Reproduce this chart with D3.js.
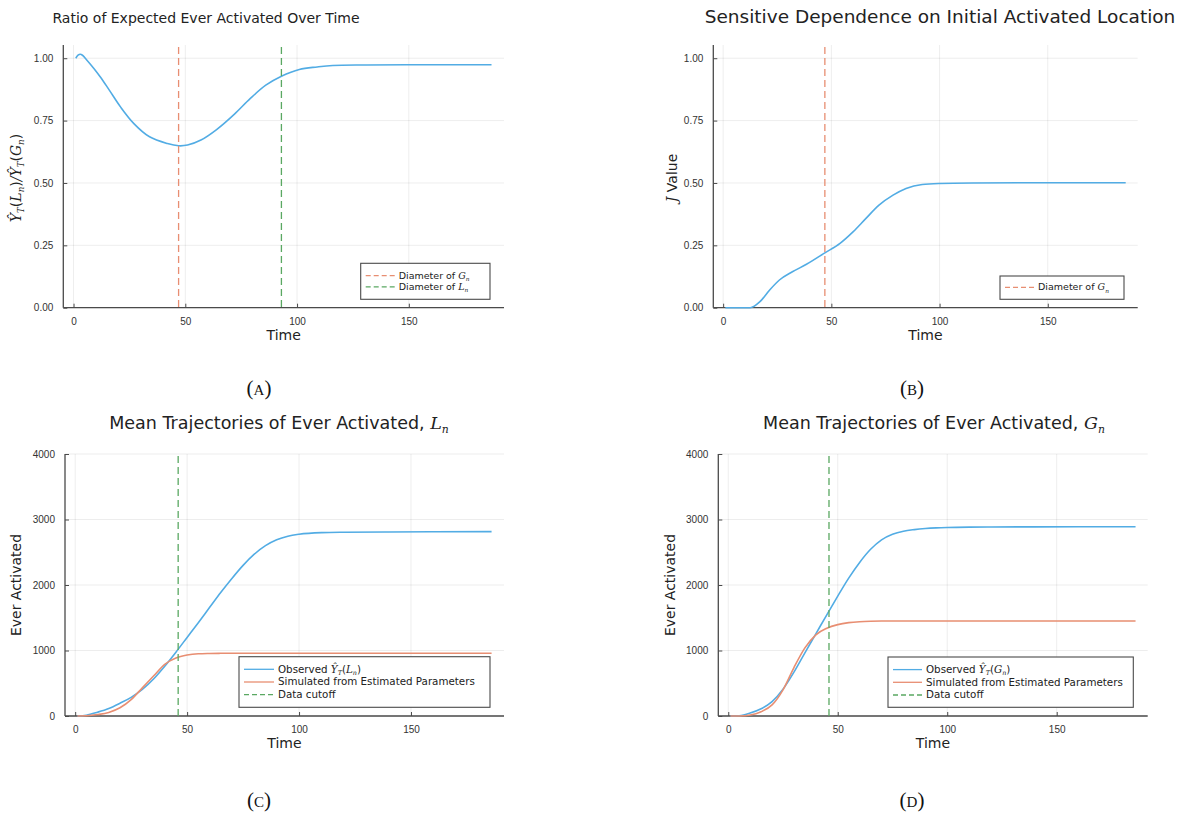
<!DOCTYPE html>
<html>
<head>
<meta charset="utf-8">
<script src="https://cdn.jsdelivr.net/npm/d3@7"></script>
<style>
  body { margin: 0; background: #fff; }
  svg { display: block; font-family: "DejaVu Sans", sans-serif; }
  .grid line { stroke: #000; stroke-opacity: 0.07; }
  .spine { stroke: #4a4a4a; stroke-width: 1.3; }
  .tick-label { font-size: 10px; fill: #333; }
  .legend-box { fill: #fff; stroke: #4a4a4a; stroke-width: 1.1; }
</style>
</head>
<body>
<svg id="chart" width="1185" height="817"></svg>
<script>
// ---- data ----
const ratioTime = [1, 2, 3, 4, 6, 9, 12, 16, 21, 27, 34, 42, 47, 51, 57, 64, 72, 79, 86, 93, 101, 109, 116, 131, 160, 187];
const ratioValue = [1.0, 1.012, 1.016, 1.012, 0.992, 0.96, 0.925, 0.872, 0.805, 0.738, 0.685, 0.658, 0.649, 0.652, 0.672, 0.714, 0.776, 0.838, 0.892, 0.928, 0.955, 0.965, 0.971, 0.973, 0.974, 0.974];

const jTime = [1, 5, 10, 12.5, 17, 21.5, 26, 32, 38.5, 47, 54, 60, 66, 72, 78.5, 84.5, 92, 100, 115, 150, 186];
const jValue = [0, 0, 0, 0, 0.024, 0.071, 0.111, 0.144, 0.174, 0.22, 0.258, 0.304, 0.358, 0.411, 0.451, 0.478, 0.494, 0.498, 0.5, 0.501, 0.501];

const trajTime = [1, 5, 10, 15, 20, 25, 30, 35, 40, 45, 50, 55, 60, 65, 70, 75, 80, 85, 90, 95, 100, 110, 120, 140, 160, 186];
const lnObserved = [0, 12, 58, 115, 195, 285, 405, 565, 760, 975, 1200, 1425, 1655, 1885, 2100, 2300, 2470, 2600, 2690, 2745, 2775, 2800, 2806, 2810, 2812, 2815];
const lnSimulated = [0, 3, 22, 55, 125, 250, 430, 610, 790, 885, 930, 950, 955, 957, 958, 958, 958, 958, 958, 958, 958, 958, 958, 958, 958, 958];
const gnObserved = [0, 5, 45, 110, 220, 410, 670, 965, 1255, 1545, 1830, 2105, 2345, 2545, 2690, 2775, 2822, 2846, 2862, 2872, 2878, 2884, 2886, 2888, 2889, 2890];
const gnSimulated = [0, 1, 15, 65, 170, 400, 740, 1040, 1240, 1340, 1395, 1425, 1440, 1447, 1450, 1450, 1450, 1450, 1450, 1450, 1450, 1450, 1450, 1450, 1450, 1450];

const ratioMarks = [47, 93];   // diameter of G_n, diameter of L_n
const jMarks = [47];
const cutoff = 46;

const xTicks = [0, 50, 100, 150];
const unitTicks = [0, 0.25, 0.5, 0.75, 1.0];
const countTicks = [0, 1000, 2000, 3000, 4000];

const blue = "#52ace4";
const red = "#e88e72";
const green = "#5aa862";

const svg = d3.select("#chart");

// rich text: parts = [text, kind]; kind: "" normal, "i" math italic, "s" subscript italic
function rich(sel, parts, size) {
  let shifted = false;
  const shift = size * 0.22;
  parts.forEach(([t, k]) => {
    const ts = sel.append("tspan").text(t);
    if (k === "i" || k === "s") {
      ts.attr("font-family", "DejaVu Serif, serif").attr("font-style", "italic");
    }
    if (k === "s") {
      ts.attr("font-size", size * 0.62).attr("dy", shifted ? 0 : shift);
      shifted = true;
    } else if (shifted) {
      ts.attr("dy", -shift);
      shifted = false;
    }
  });
}

function panel(cfg) {
  const x = d3.scaleLinear().domain(cfg.xdom).range([cfg.x0, cfg.x1]);
  const y = d3.scaleLinear().domain(cfg.ydom).range([cfg.y1, cfg.y0]);
  const g = svg.append("g");

  const grid = g.append("g").attr("class", "grid");
  grid.selectAll(".gx").data(xTicks).enter().append("line")
    .attr("x1", (d) => x(d)).attr("x2", (d) => x(d))
    .attr("y1", cfg.y0).attr("y2", cfg.y1);
  grid.selectAll(".gy").data(cfg.yTicks).enter().append("line")
    .attr("x1", cfg.x0).attr("x2", cfg.x1)
    .attr("y1", (d) => y(d)).attr("y2", (d) => y(d));

  // axes via d3.axis, inward ticks, then restyled
  const xa = g.append("g").attr("transform", `translate(0,${cfg.y1})`)
    .call(d3.axisBottom(x).tickValues(xTicks).tickSizeInner(-4).tickSizeOuter(0).tickPadding(10));
  const ya = g.append("g").attr("transform", `translate(${cfg.x0},0)`)
    .call(d3.axisLeft(y).tickValues(cfg.yTicks).tickFormat(cfg.yFormat).tickSizeInner(-4).tickSizeOuter(0).tickPadding(10));
  [xa, ya].forEach((a) => {
    a.select(".domain").remove();
    a.selectAll(".tick line").attr("stroke", "#4a4a4a").attr("stroke-width", 1);
    a.selectAll(".tick text").attr("class", "tick-label").attr("font-family", null).attr("font-size", null);
  });
  g.append("line").attr("class", "spine")
    .attr("x1", cfg.x0).attr("x2", cfg.x1).attr("y1", cfg.y1).attr("y2", cfg.y1);
  g.append("line").attr("class", "spine")
    .attr("x1", cfg.x0).attr("x2", cfg.x0).attr("y1", cfg.y0).attr("y2", cfg.y1);

  const line = d3.line().curve(cfg.curve || d3.curveMonotoneX)
    .x((d) => x(d[0])).y((d) => y(d[1]));
  cfg.series.forEach((s) => {
    g.append("path")
      .datum(s.t.map((t, i) => [t, s.v[i]]))
      .attr("fill", "none").attr("stroke", s.color).attr("stroke-width", 1.6)
      .attr("d", line);
  });
  cfg.vlines.forEach((v) => {
    g.append("line")
      .attr("x1", x(v.at)).attr("x2", x(v.at))
      .attr("y1", cfg.y0 + 2).attr("y2", cfg.y1)
      .attr("stroke", v.color).attr("stroke-width", 1.3)
      .attr("stroke-dasharray", "7,4");
  });

  // title
  const title = g.append("text")
    .attr("x", cfg.titleX).attr("y", cfg.titleY)
    .attr("text-anchor", "middle").attr("font-size", cfg.titleSize).attr("fill", "#222");
  rich(title, cfg.title, cfg.titleSize);

  g.append("text")
    .attr("x", (cfg.x0 + cfg.x1) / 2).attr("y", cfg.y1 + 32)
    .attr("text-anchor", "middle").attr("font-size", 14).attr("fill", "#222")
    .text("Time");

  const yl = g.append("text")
    .attr("transform", `translate(${cfg.ylabX},${cfg.ylabY}) rotate(-90)`)
    .attr("text-anchor", "middle").attr("font-size", cfg.ylabSize).attr("fill", "#222");
  rich(yl, cfg.ylab, cfg.ylabSize);

  // legend
  const L = cfg.legend;
  g.append("rect").attr("class", "legend-box")
    .attr("x", L.x).attr("y", L.y).attr("width", L.w).attr("height", L.h);
  L.items.forEach((it, i) => {
    const ry = L.y + L.first + i * L.step;
    g.append("line")
      .attr("x1", L.x + 5).attr("x2", L.x + 5 + L.lineLen)
      .attr("y1", ry).attr("y2", ry)
      .attr("stroke", it.color).attr("stroke-width", 1.3)
      .attr("stroke-dasharray", it.dash ? "5,3" : null);
    const t = g.append("text")
      .attr("x", L.x + 9 + L.lineLen).attr("y", ry + L.size * 0.33)
      .attr("font-size", L.size).attr("fill", "#222");
    rich(t, it.label, L.size);
  });

  // caption
  svg.append("text")
    .attr("x", cfg.capX).attr("y", cfg.capY)
    .attr("text-anchor", "middle")
    .attr("font-family", "Liberation Serif, DejaVu Serif, serif")
    .attr("font-size", 21).attr("font-variant", "small-caps").attr("fill", "#111")
    .text(cfg.cap);
}

function pad(ext) {
  const m = (ext[1] - ext[0]) * 0.03;
  return [ext[0] - m, ext[1] + m];
}

const yHat = (a) => [["Ŷ", "i"], ["T", "s"], ["(", ""], [a, "i"], ["n", "s"], [")", ""]];

panel({
  x0: 63.3, x1: 504, y0: 45, y1: 307.7,
  xdom: pad(d3.extent(ratioTime)), ydom: [0, 1.053],
  yTicks: unitTicks, yFormat: d3.format(".2f"),
  curve: d3.curveCatmullRom.alpha(0.5),
  series: [{ t: ratioTime, v: ratioValue, color: blue }],
  vlines: [{ at: ratioMarks[0], color: red }, { at: ratioMarks[1], color: green }],
  title: [["Ratio of Expected Ever Activated Over Time", ""]],
  titleX: 206, titleY: 23, titleSize: 14,
  ylab: [...yHat("L"), ["/", "i"], ...yHat("G")], ylabX: 21, ylabY: 178, ylabSize: 14,
  legend: {
    x: 360.7, y: 263.3, w: 129.3, h: 36, first: 12.3, step: 11.3, lineLen: 29, size: 9.5,
    items: [
      { color: red, dash: true, label: [["Diameter of ", ""], ["G", "i"], ["n", "s"]] },
      { color: green, dash: true, label: [["Diameter of ", ""], ["L", "i"], ["n", "s"]] },
    ],
  },
  cap: "(a)", capX: 259, capY: 395,
});

panel({
  x0: 713.3, x1: 1137.7, y0: 45, y1: 307.7,
  xdom: pad(d3.extent(jTime)), ydom: [0, 1.053],
  yTicks: unitTicks, yFormat: d3.format(".2f"),
  series: [{ t: jTime, v: jValue, color: blue }],
  vlines: [{ at: jMarks[0], color: red }],
  title: [["Sensitive Dependence on Initial Activated Location", ""]],
  titleX: 940, titleY: 23, titleSize: 18.5,
  ylab: [["J", "i"], [" Value", ""]], ylabX: 677, ylabY: 178, ylabSize: 14,
  legend: {
    x: 1000, y: 276, w: 124, h: 23.3, first: 11.3, step: 11.3, lineLen: 29, size: 9.5,
    items: [{ color: red, dash: true, label: [["Diameter of ", ""], ["G", "i"], ["n", "s"]] }],
  },
  cap: "(b)", capX: 912, capY: 395,
});

panel({
  x0: 65, x1: 504, y0: 454, y1: 716,
  xdom: pad(d3.extent(trajTime)), ydom: [0, 4000],
  yTicks: countTicks, yFormat: d3.format("d"),
  series: [
    { t: trajTime, v: lnObserved, color: blue },
    { t: trajTime, v: lnSimulated, color: red },
  ],
  vlines: [{ at: cutoff, color: green }],
  title: [["Mean Trajectories of Ever Activated, ", ""], ["L", "i"], ["n", "s"]],
  titleX: 279, titleY: 429, titleSize: 17.5,
  ylab: [["Ever Activated", ""]], ylabX: 21, ylabY: 585, ylabSize: 14,
  legend: {
    x: 239, y: 656.7, w: 251, h: 50.6, first: 12.6, step: 12.7, lineLen: 30, size: 10.3,
    items: [
      { color: blue, dash: false, label: [["Observed ", ""], ...yHat("L")] },
      { color: red, dash: false, label: [["Simulated from Estimated Parameters", ""]] },
      { color: green, dash: true, label: [["Data cutoff", ""]] },
    ],
  },
  cap: "(c)", capX: 259, capY: 807,
});

panel({
  x0: 718.3, x1: 1147.7, y0: 454, y1: 716,
  xdom: pad(d3.extent(trajTime)), ydom: [0, 4000],
  yTicks: countTicks, yFormat: d3.format("d"),
  series: [
    { t: trajTime, v: gnObserved, color: blue },
    { t: trajTime, v: gnSimulated, color: red },
  ],
  vlines: [{ at: cutoff, color: green }],
  title: [["Mean Trajectories of Ever Activated, ", ""], ["G", "i"], ["n", "s"]],
  titleX: 934, titleY: 429, titleSize: 17.5,
  ylab: [["Ever Activated", ""]], ylabX: 675, ylabY: 585, ylabSize: 14,
  legend: {
    x: 888, y: 657, w: 245.3, h: 50.3, first: 12.6, step: 12.7, lineLen: 29, size: 10.3,
    items: [
      { color: blue, dash: false, label: [["Observed ", ""], ...yHat("G")] },
      { color: red, dash: false, label: [["Simulated from Estimated Parameters", ""]] },
      { color: green, dash: true, label: [["Data cutoff", ""]] },
    ],
  },
  cap: "(d)", capX: 912, capY: 807,
});
</script>
</body>
</html>
